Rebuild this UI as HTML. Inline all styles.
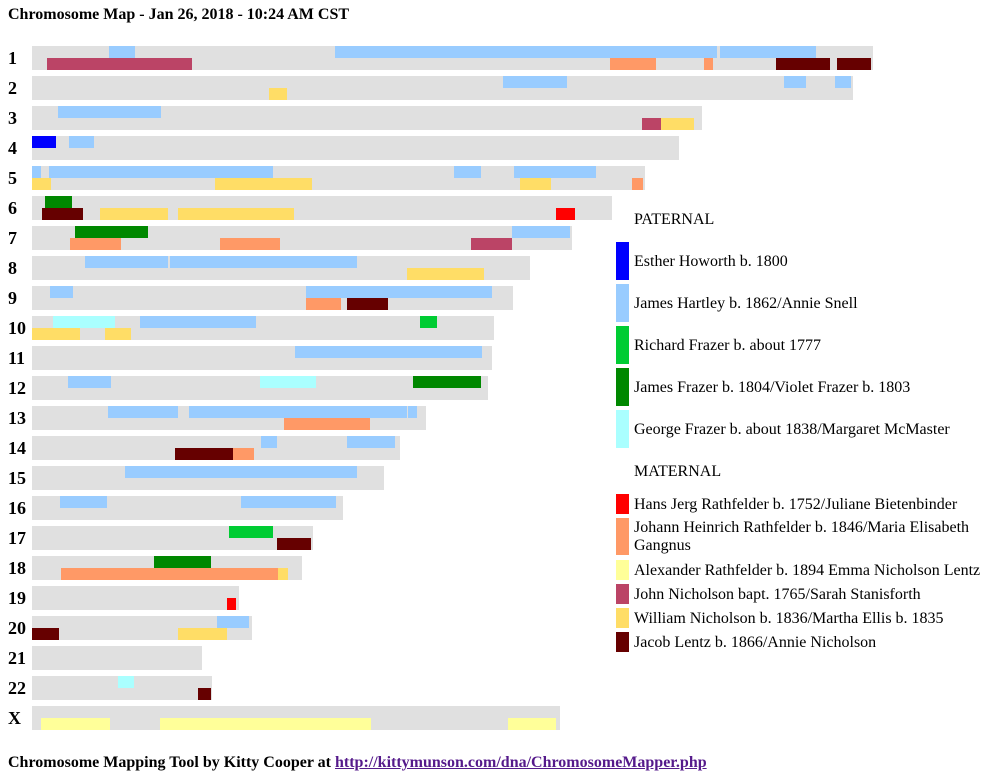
<!DOCTYPE html>
<html><head><meta charset="utf-8"><style>
body{margin:0;width:990px;height:774px;background:#fff;position:relative;font-family:"Liberation Serif",serif;color:#000;overflow:hidden}
div{position:absolute}
.g{background:#e0e0e0;height:24px;left:32px}
.s{height:12px}
.lb{background:#99ccff}.cr{background:#bb4466}.or{background:#ff9966}.dr{background:#660000}.ye{background:#ffdd66}.py{background:#ffff99}.cy{background:#aaffff}.gn{background:#008800}.bg{background:#00cc33}.rd{background:#ff0000}.bl{background:#0000ff}
.n{left:8px;font-weight:bold;font-size:18px;width:22px}
.t{left:634px;font-size:16px;line-height:19px;width:356px}
.w{left:616px;width:13px}
</style></head><body>
<div style="left:8px;top:6px;font-weight:bold;font-size:16px">Chromosome Map - Jan 26, 2018 - 10:24 AM CST</div>

<div class="n" style="top:48px">1</div><div class="n" style="top:78px">2</div><div class="n" style="top:108px">3</div><div class="n" style="top:138px">4</div><div class="n" style="top:168px">5</div><div class="n" style="top:198px">6</div><div class="n" style="top:228px">7</div><div class="n" style="top:258px">8</div><div class="n" style="top:288px">9</div><div class="n" style="top:318px">10</div><div class="n" style="top:348px">11</div><div class="n" style="top:378px">12</div><div class="n" style="top:408px">13</div><div class="n" style="top:438px">14</div><div class="n" style="top:468px">15</div><div class="n" style="top:498px">16</div><div class="n" style="top:528px">17</div><div class="n" style="top:558px">18</div><div class="n" style="top:588px">19</div><div class="n" style="top:618px">20</div><div class="n" style="top:648px">21</div><div class="n" style="top:678px">22</div><div class="n" style="top:708px">X</div>

<div class="g" style="top:46px;width:841px"></div>
<div class="g" style="top:76px;width:821px"></div>
<div class="g" style="top:106px;width:670px"></div>
<div class="g" style="top:136px;width:647px"></div>
<div class="g" style="top:166px;width:613px"></div>
<div class="g" style="top:196px;width:580px"></div>
<div class="g" style="top:226px;width:540px"></div>
<div class="g" style="top:256px;width:498px"></div>
<div class="g" style="top:286px;width:481px"></div>
<div class="g" style="top:316px;width:462px"></div>
<div class="g" style="top:346px;width:460px"></div>
<div class="g" style="top:376px;width:456px"></div>
<div class="g" style="top:406px;width:394px"></div>
<div class="g" style="top:436px;width:368px"></div>
<div class="g" style="top:466px;width:352px"></div>
<div class="g" style="top:496px;width:311px"></div>
<div class="g" style="top:526px;width:281px"></div>
<div class="g" style="top:556px;width:270px"></div>
<div class="g" style="top:586px;width:207px"></div>
<div class="g" style="top:616px;width:220px"></div>
<div class="g" style="top:646px;width:170px"></div>
<div class="g" style="top:676px;width:180px"></div>
<div class="g" style="top:706px;width:528px"></div>

<div class="s lb" style="top:46px;left:109px;width:26px"></div>
<div class="s lb" style="top:46px;left:335px;width:382px"></div>
<div class="s lb" style="top:46px;left:720px;width:96px"></div>
<div class="s cr" style="top:58px;left:47px;width:145px"></div>
<div class="s or" style="top:58px;left:610px;width:46px"></div>
<div class="s or" style="top:58px;left:704px;width:9px"></div>
<div class="s dr" style="top:58px;left:776px;width:54px"></div>
<div class="s dr" style="top:58px;left:837px;width:34px"></div>
<div class="s lb" style="top:76px;left:503px;width:64px"></div>
<div class="s lb" style="top:76px;left:784px;width:22px"></div>
<div class="s lb" style="top:76px;left:835px;width:16px"></div>
<div class="s ye" style="top:88px;left:269px;width:18px"></div>
<div class="s lb" style="top:106px;left:58px;width:103px"></div>
<div class="s cr" style="top:118px;left:642px;width:19px"></div>
<div class="s ye" style="top:118px;left:661px;width:33px"></div>
<div class="s bl" style="top:136px;left:32px;width:24px"></div>
<div class="s lb" style="top:136px;left:69px;width:25px"></div>
<div class="s lb" style="top:166px;left:32px;width:9px"></div>
<div class="s lb" style="top:166px;left:49px;width:224px"></div>
<div class="s lb" style="top:166px;left:454px;width:27px"></div>
<div class="s lb" style="top:166px;left:514px;width:82px"></div>
<div class="s ye" style="top:178px;left:32px;width:19px"></div>
<div class="s ye" style="top:178px;left:215px;width:97px"></div>
<div class="s ye" style="top:178px;left:520px;width:31px"></div>
<div class="s or" style="top:178px;left:632px;width:11px"></div>
<div class="s gn" style="top:196px;left:45px;width:27px"></div>
<div class="s dr" style="top:208px;left:42px;width:41px"></div>
<div class="s ye" style="top:208px;left:100px;width:68px"></div>
<div class="s ye" style="top:208px;left:178px;width:116px"></div>
<div class="s rd" style="top:208px;left:556px;width:19px"></div>
<div class="s gn" style="top:226px;left:75px;width:73px"></div>
<div class="s lb" style="top:226px;left:512px;width:58px"></div>
<div class="s or" style="top:238px;left:70px;width:51px"></div>
<div class="s or" style="top:238px;left:220px;width:60px"></div>
<div class="s cr" style="top:238px;left:471px;width:41px"></div>
<div class="s lb" style="top:256px;left:85px;width:83px"></div>
<div class="s lb" style="top:256px;left:170px;width:187px"></div>
<div class="s ye" style="top:268px;left:407px;width:77px"></div>
<div class="s lb" style="top:286px;left:50px;width:23px"></div>
<div class="s lb" style="top:286px;left:306px;width:186px"></div>
<div class="s or" style="top:298px;left:306px;width:35px"></div>
<div class="s dr" style="top:298px;left:347px;width:41px"></div>
<div class="s cy" style="top:316px;left:53px;width:62px"></div>
<div class="s lb" style="top:316px;left:140px;width:116px"></div>
<div class="s bg" style="top:316px;left:420px;width:17px"></div>
<div class="s ye" style="top:328px;left:32px;width:48px"></div>
<div class="s ye" style="top:328px;left:105px;width:26px"></div>
<div class="s lb" style="top:346px;left:295px;width:187px"></div>
<div class="s lb" style="top:376px;left:68px;width:43px"></div>
<div class="s cy" style="top:376px;left:260px;width:56px"></div>
<div class="s gn" style="top:376px;left:413px;width:68px"></div>
<div class="s lb" style="top:406px;left:108px;width:70px"></div>
<div class="s lb" style="top:406px;left:189px;width:218px"></div>
<div class="s lb" style="top:406px;left:408px;width:9px"></div>
<div class="s or" style="top:418px;left:284px;width:86px"></div>
<div class="s lb" style="top:436px;left:261px;width:16px"></div>
<div class="s lb" style="top:436px;left:347px;width:48px"></div>
<div class="s dr" style="top:448px;left:175px;width:58px"></div>
<div class="s or" style="top:448px;left:233px;width:21px"></div>
<div class="s lb" style="top:466px;left:125px;width:232px"></div>
<div class="s lb" style="top:496px;left:60px;width:47px"></div>
<div class="s lb" style="top:496px;left:241px;width:95px"></div>
<div class="s bg" style="top:526px;left:229px;width:44px"></div>
<div class="s dr" style="top:538px;left:277px;width:34px"></div>
<div class="s gn" style="top:556px;left:154px;width:57px"></div>
<div class="s or" style="top:568px;left:61px;width:217px"></div>
<div class="s ye" style="top:568px;left:278px;width:10px"></div>
<div class="s rd" style="top:598px;left:227px;width:9px"></div>
<div class="s lb" style="top:616px;left:217px;width:32px"></div>
<div class="s dr" style="top:628px;left:32px;width:27px"></div>
<div class="s ye" style="top:628px;left:178px;width:49px"></div>
<div class="s cy" style="top:676px;left:118px;width:16px"></div>
<div class="s dr" style="top:688px;left:198px;width:13px"></div>
<div class="s py" style="top:718px;left:41px;width:69px"></div>
<div class="s py" style="top:718px;left:160px;width:211px"></div>
<div class="s py" style="top:718px;left:508px;width:48px"></div>

<div class="t" style="top:210px">PATERNAL</div>
<div class="w bl" style="top:242px;height:38px"></div><div class="t" style="top:252px">Esther Howorth b. 1800</div>
<div class="w lb" style="top:284px;height:38px"></div><div class="t" style="top:294px">James Hartley b. 1862/Annie Snell</div>
<div class="w bg" style="top:326px;height:38px"></div><div class="t" style="top:336px">Richard Frazer b. about 1777</div>
<div class="w gn" style="top:368px;height:38px"></div><div class="t" style="top:378px">James Frazer b. 1804/Violet Frazer b. 1803</div>
<div class="w cy" style="top:410px;height:38px"></div><div class="t" style="top:420px">George Frazer b. about 1838/Margaret McMaster</div>
<div class="t" style="top:462px">MATERNAL</div>
<div class="w rd" style="top:494px;height:20px"></div><div class="t" style="top:495px">Hans Jerg Rathfelder b. 1752/Juliane Bietenbinder</div>
<div class="w or" style="top:518px;height:37px"></div><div class="t" style="top:519px;line-height:18px">Johann Heinrich Rathfelder b. 1846/Maria Elisabeth Gangnus</div>
<div class="w py" style="top:560px;height:20px"></div><div class="t" style="top:561px">Alexander Rathfelder b. 1894 Emma Nicholson Lentz</div>
<div class="w cr" style="top:584px;height:20px"></div><div class="t" style="top:585px">John Nicholson bapt. 1765/Sarah Stanisforth</div>
<div class="w ye" style="top:608px;height:20px"></div><div class="t" style="top:609px">William Nicholson b. 1836/Martha Ellis b. 1835</div>
<div class="w dr" style="top:632px;height:20px"></div><div class="t" style="top:633px">Jacob Lentz b. 1866/Annie Nicholson</div>

<div style="left:8px;top:754px;font-weight:bold;font-size:16px;white-space:nowrap">Chromosome Mapping Tool by Kitty Cooper at <span style="color:#551a8b;text-decoration:underline">http://kittymunson.com/dna/ChromosomeMapper.php</span></div>
</body></html>
